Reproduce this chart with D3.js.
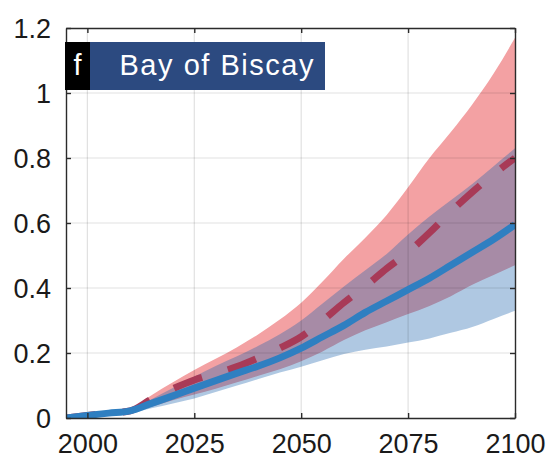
<!DOCTYPE html>
<html>
<head>
<meta charset="utf-8">
<script src="https://cdn.jsdelivr.net/npm/d3@7"></script>
<style>
  html, body { margin: 0; padding: 0; background: #fff; }
  svg { display: block; }
  text { font-family: "Liberation Sans", Arial, Helvetica, sans-serif; }
</style>
</head>
<body>
<svg id="chart" width="547" height="457"></svg>
<script>
// ---- data ----
const years = [1995, 2000, 2005, 2010, 2015, 2020, 2025, 2030, 2035, 2040, 2045, 2050,
               2055, 2060, 2065, 2070, 2075, 2080, 2085, 2090, 2095, 2100];
const rcp85Median = [0, 0.008, 0.015, 0.022, 0.058, 0.09, 0.117, 0.137, 0.158, 0.185, 0.215, 0.25,
                     0.30, 0.355, 0.405, 0.46, 0.51, 0.57, 0.635, 0.695, 0.75, 0.80];
const rcp85Upper  = [0, 0.008, 0.015, 0.025, 0.07, 0.11, 0.148, 0.182, 0.218, 0.258, 0.303, 0.355,
                     0.42, 0.49, 0.555, 0.625, 0.71, 0.80, 0.88, 0.965, 1.06, 1.17];
const rcp85Lower  = [0, 0.006, 0.012, 0.018, 0.035, 0.055, 0.072, 0.09, 0.11, 0.13, 0.15, 0.175,
                     0.205, 0.24, 0.27, 0.295, 0.32, 0.345, 0.375, 0.41, 0.44, 0.47];
const rcp45Median = [0, 0.008, 0.015, 0.022, 0.045, 0.068, 0.092, 0.115, 0.138, 0.16, 0.185, 0.215,
                     0.25, 0.285, 0.325, 0.36, 0.395, 0.43, 0.47, 0.51, 0.55, 0.595];
const rcp45Upper  = [0, 0.008, 0.015, 0.022, 0.058, 0.092, 0.127, 0.16, 0.19, 0.222, 0.258, 0.30,
                     0.352, 0.405, 0.455, 0.505, 0.565, 0.62, 0.67, 0.72, 0.775, 0.83];
const rcp45Lower  = [0, 0.005, 0.01, 0.015, 0.03, 0.045, 0.06, 0.08, 0.10, 0.12, 0.14, 0.158,
                     0.178, 0.197, 0.21, 0.22, 0.232, 0.245, 0.262, 0.28, 0.305, 0.33];
const xTicks = [2000, 2025, 2050, 2075, 2100];
const yTicks = [0, 0.2, 0.4, 0.6, 0.8, 1, 1.2];
const panelLetter = "f";
const panelTitle = "Bay of Biscay";

(function () {
// ---- layout ----
const svg = d3.select("#chart");
const pL = 66, pR = 515, pT = 28, pB = 418;
const x = d3.scaleLinear().domain([1995, 2100]).range([pL, pR]);
const y = d3.scaleLinear().domain([0, 1.2]).range([pB, pT]);
const curve = d3.curveMonotoneX;

const rows = years.map((yr, i) => ({
  yr, m85: rcp85Median[i], u85: rcp85Upper[i], l85: rcp85Lower[i],
  m45: rcp45Median[i], u45: rcp45Upper[i], l45: rcp45Lower[i]
}));

svg.append("clipPath").attr("id", "clip").append("rect")
  .attr("x", pL).attr("y", pT).attr("width", pR - pL).attr("height", pB - pT);
const g = svg.append("g").attr("clip-path", "url(#clip)");

// bands
g.append("path").datum(rows)
  .attr("fill", "#f3a1a3")
  .attr("d", d3.area().curve(curve).x(d => x(d.yr)).y0(d => y(d.l85)).y1(d => y(d.u85)));
g.append("path").datum(rows)
  .attr("fill", "rgb(26,97,171)").attr("fill-opacity", 0.35)
  .attr("d", d3.area().curve(curve).x(d => x(d.yr)).y0(d => y(d.l45)).y1(d => y(d.u45)));

// grid on top
const grid = g.append("g").attr("stroke", "rgba(0,0,0,0.12)").attr("stroke-width", 1.2);
xTicks.slice(0, -1).forEach(t => {
  grid.append("line").attr("x1", x(t)).attr("x2", x(t)).attr("y1", pT).attr("y2", pB);
});
yTicks.slice(1, -1).forEach(t => {
  grid.append("line").attr("x1", pL).attr("x2", pR).attr("y1", y(t)).attr("y2", y(t));
});

// median lines
g.append("path").datum(rows)
  .attr("fill", "none").attr("stroke", "#a83a57").attr("stroke-width", 7)
  .attr("stroke-dasharray", "30,27")
  .attr("d", d3.line().curve(curve).x(d => x(d.yr)).y(d => y(d.m85)));
g.append("path").datum(rows)
  .attr("fill", "none").attr("stroke", "#2f7fc1").attr("stroke-width", 7)
  .attr("stroke-linejoin", "round")
  .attr("d", d3.line().curve(curve).x(d => x(d.yr)).y(d => y(d.m45)));

// axes (box with inward ticks)
const axisColor = "#2b2b2b";
const fs = 27;
const axB = svg.append("g").attr("transform", `translate(0,${pB})`)
  .call(d3.axisBottom(x).tickValues(xTicks).tickSizeInner(-5).tickSizeOuter(0).tickPadding(0).tickFormat(d3.format("d")));
const axT = svg.append("g").attr("transform", `translate(0,${pT})`)
  .call(d3.axisTop(x).tickValues(xTicks).tickSizeInner(-5).tickSizeOuter(0).tickFormat(""));
const axL = svg.append("g").attr("transform", `translate(${pL},0)`)
  .call(d3.axisLeft(y).tickValues(yTicks).tickSizeInner(-5).tickSizeOuter(0).tickFormat(d3.format("~g")));
const axR = svg.append("g").attr("transform", `translate(${pR},0)`)
  .call(d3.axisRight(y).tickValues(yTicks).tickSizeInner(-5).tickSizeOuter(0).tickFormat(""));

[axB, axT, axL, axR].forEach(a => {
  a.select(".domain").attr("stroke", axisColor).attr("stroke-width", 1.4);
  a.selectAll(".tick line").attr("stroke", axisColor).attr("stroke-width", 1.4);
});
axB.selectAll(".tick text")
  .attr("font-size", fs).attr("fill", "#1a1a1a")
  .attr("font-family", "Liberation Sans, Arial, sans-serif")
  .attr("dy", null).attr("y", 34.5);
axL.selectAll(".tick text")
  .attr("font-size", fs).attr("fill", "#1a1a1a")
  .attr("font-family", "Liberation Sans, Arial, sans-serif")
  .attr("dy", null).attr("x", -15).attr("y", 9.5);

// panel label
const lab = svg.append("g");
lab.append("rect").attr("x", 65).attr("y", 42).attr("width", 25).attr("height", 48).attr("fill", "#000");
lab.append("rect").attr("x", 90).attr("y", 42).attr("width", 235).attr("height", 48).attr("fill", "#2c4a80");
lab.append("text").attr("x", 77.5).attr("y", 74.5).attr("text-anchor", "middle")
  .attr("fill", "#fff").attr("font-size", 29).text(panelLetter);
lab.append("text").attr("x", 119.5).attr("y", 74.5)
  .attr("fill", "#fff").attr("font-size", 29)
  .attr("textLength", 194).attr("lengthAdjust", "spacing").text(panelTitle);
})();
</script>
</body>
</html>
